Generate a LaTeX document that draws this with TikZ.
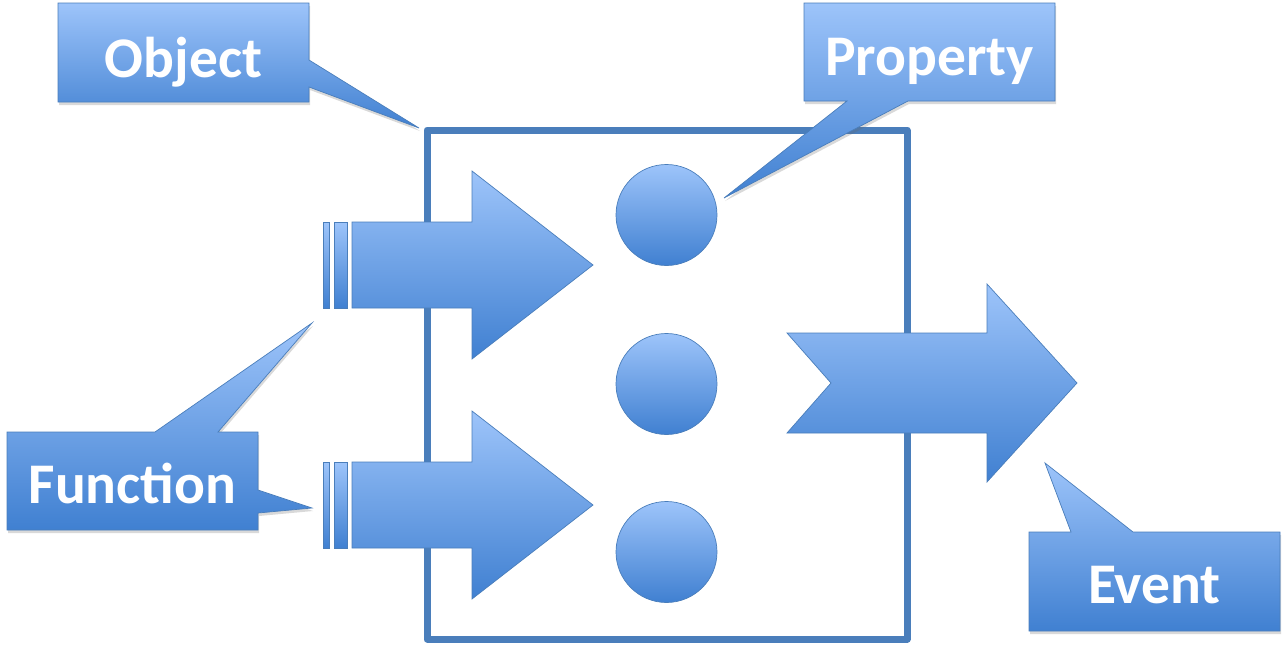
\documentclass[tikz,border=0pt]{standalone}
\usepackage{fontspec}
\setmainfont{Carlito}
\usetikzlibrary{shadows}
\definecolor{gtop}{HTML}{9DC4FA}
\definecolor{gbot}{HTML}{4080D1}
\definecolor{edgeblue}{HTML}{4A7EBB}
\begin{document}
\begin{tikzpicture}[x=1pt,y=-1pt,
  shape3d/.style={draw=edgeblue, line width=0.7pt, top color=gtop, bottom color=gbot, line join=miter},
  callout/.style={shape3d, drop shadow={shadow xshift=1pt, shadow yshift=-3pt, opacity=0.25, fill=black!60}},
  lbl/.style={text=white, font=\fontsize{57.5}{60}\selectfont\bfseries, anchor=base, inner sep=0pt},
  frame/.style={draw=edgeblue, line width=7pt, line join=round}
]
\useasboundingbox (0,0) rectangle (1288,656);
% object frame
\draw[frame] (427,130) rectangle (907,639);
% callouts
\path[callout] (58,3) -- (309,3) -- (309,60) -- (419,128) -- (309,87) -- (309,102) -- (58,102) -- cycle;
\node[lbl] (object) at (183.5,77) {Object};
\path[callout] (804,3) -- (1055,3) -- (1055,101) -- (908,101) -- (724,198) -- (847,101) -- (804,101) -- cycle;
\node[lbl] (property) at (929.5,75) {Property};
\path[callout] (7,432) -- (155,432) -- (312,323) -- (218,432) -- (258,432) -- (258,490) -- (312,508) -- (258,513) -- (258,530) -- (7,530) -- cycle;
\node[lbl] (function) at (132.5,503) {Function};
\path[callout] (1029,532) -- (1071,532) -- (1045,463) -- (1133,532) -- (1280,532) -- (1280,631) -- (1029,631) -- cycle;
\node[lbl] (event) at (1154.5,603) {Event};
% properties
\node[shape3d, circle, minimum size=101pt, inner sep=0pt] (p1) at (666.5,215) {};
\node[shape3d, circle, minimum size=101pt, inner sep=0pt] (p2) at (666.5,384) {};
\node[shape3d, circle, minimum size=101pt, inner sep=0pt] (p3) at (666.5,552) {};
% function arrows
\foreach \dy in {0,240}{
  \begin{scope}[yshift=-\dy pt]
  \path[shape3d] (323,222) rectangle (329,308);
  \path[shape3d] (334,222) rectangle (347,308);
  \path[shape3d] (352,222) -- (472,222) -- (472,171) -- (593,265) -- (472,359) -- (472,308) -- (352,308) -- cycle;
  \end{scope}
}
% event arrow
\path[shape3d] (787,333) -- (987,333) -- (987,284) -- (1077,383) -- (987,482) -- (987,433) -- (787,433) -- (831,383) -- cycle;
\end{tikzpicture}
\end{document}
